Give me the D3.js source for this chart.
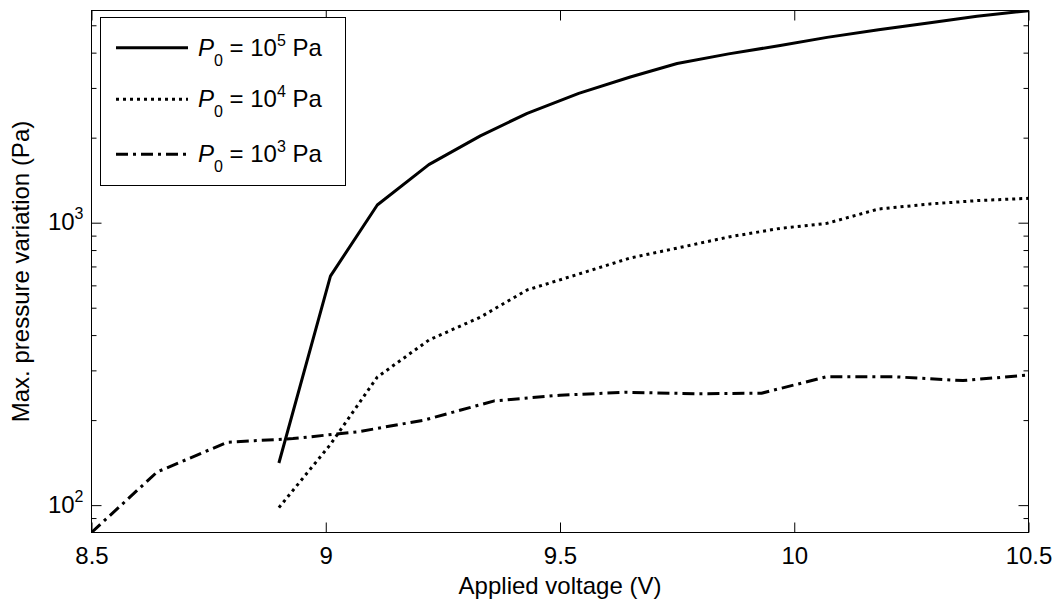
<!DOCTYPE html>
<html>
<head>
<meta charset="utf-8">
<script src="https://cdn.jsdelivr.net/npm/d3@7"></script>
<style>
  body { margin: 0; background: #fff; }
  svg text { font-family: "Liberation Sans", Arial, sans-serif; fill: #000; }
</style>
</head>
<body>
<div id="chart"></div>
<script>
// Voltages (V) for the P0 = 1e5 and 1e4 Pa runs
const voltageHigh = [8.90, 9.01, 9.11, 9.22, 9.33, 9.43, 9.54, 9.65, 9.75, 9.86, 9.97, 10.07, 10.18, 10.29, 10.39, 10.50];
// Voltages (V) for the P0 = 1e3 Pa run
const voltageLow = [8.50, 8.64, 8.79, 8.93, 9.07, 9.21, 9.36, 9.50, 9.64, 9.79, 9.93, 10.07, 10.21, 10.36, 10.50];

// Max. pressure variation (Pa)
const pressure5 = [141, 647, 1155, 1605, 2030, 2440, 2870, 3280, 3660, 3960, 4240, 4530, 4820, 5100, 5380, 5630];
const pressure4 = [98, 164, 284, 384, 463, 578, 658, 750, 813, 890, 955, 995, 1118, 1165, 1197, 1220];
const pressure3 = [80, 131, 167, 172, 182, 200, 234, 245, 251, 248, 249, 285, 285, 276, 289];

const xTicks = [8.5, 9, 9.5, 10, 10.5];
const yMajorTicks = [100, 1000];
const yMinorTicks = [90, 200, 300, 400, 500, 600, 700, 800, 900, 2000, 3000, 4000, 5000];

const seriesNames = ['5', '4', '3'];

class LineChart {

  constructor(_config) {
    this.config = {
      parentElement: _config.parentElement,
      containerWidth: 1057,
      containerHeight: 601,
      margin: { top: 10.5, right: 28.5, bottom: 68.5, left: 91.5 },
      fontSize: 24,
      smallFontSize: 16
    };
    this.initVis();
  }

  initVis() {
    let vis = this;

    vis.width = vis.config.containerWidth - vis.config.margin.left - vis.config.margin.right;
    vis.height = vis.config.containerHeight - vis.config.margin.top - vis.config.margin.bottom;

    vis.xScale = d3.scaleLinear()
      .domain([8.5, 10.5])
      .range([0, vis.width]);

    vis.yScale = d3.scaleLog()
      .domain([80, 5640])
      .range([vis.height, 0]);

    vis.svg = d3.select(vis.config.parentElement).append('svg')
      .attr('width', vis.config.containerWidth)
      .attr('height', vis.config.containerHeight);

    vis.chartArea = vis.svg.append('g')
      .attr('transform', `translate(${vis.config.margin.left},${vis.config.margin.top})`);

    vis.chartArea.append('clipPath')
      .attr('id', 'plot-clip')
      .append('rect')
      .attr('width', vis.width)
      .attr('height', vis.height);

    vis.renderAxes();
    vis.renderLines();
    vis.renderLegend();
  }

  renderAxes() {
    let vis = this;
    const noLabel = () => '';

    // bottom + top ticks, pointing inward
    const xAxis = d3.axisBottom(vis.xScale)
      .tickValues(xTicks)
      .tickSize(-10)
      .tickSizeOuter(0)
      .tickPadding(14)
      .tickFormat(d3.format('~g'));
    vis.chartArea.append('g')
      .attr('transform', `translate(0,${vis.height})`)
      .call(xAxis);
    vis.chartArea.append('g')
      .call(d3.axisTop(vis.xScale).tickValues(xTicks).tickSize(-10).tickSizeOuter(0).tickFormat(noLabel));

    // left axis, labels as 10^n
    const yAxis = d3.axisLeft(vis.yScale)
      .tickValues(yMajorTicks)
      .tickSize(-10)
      .tickSizeOuter(0)
      .tickPadding(8)
      .tickFormat(noLabel);
    const yAxisG = vis.chartArea.append('g').call(yAxis);
    yAxisG.selectAll('.tick text')
      .attr('dy', '0.3em')
      .each(function (d) {
        const t = d3.select(this);
        t.append('tspan').text('10');
        t.append('tspan')
          .attr('dy', -11)
          .attr('font-size', vis.config.smallFontSize)
          .text(Math.round(Math.log10(d)));
      });
    vis.chartArea.append('g')
      .call(d3.axisLeft(vis.yScale).tickValues(yMinorTicks).tickSize(-5).tickSizeOuter(0).tickFormat(noLabel));

    // right mirror ticks
    vis.chartArea.append('g')
      .attr('transform', `translate(${vis.width},0)`)
      .call(d3.axisRight(vis.yScale).tickValues(yMajorTicks).tickSize(-10).tickSizeOuter(0).tickFormat(noLabel));
    vis.chartArea.append('g')
      .attr('transform', `translate(${vis.width},0)`)
      .call(d3.axisRight(vis.yScale).tickValues(yMinorTicks).tickSize(-5).tickSizeOuter(0).tickFormat(noLabel));

    vis.chartArea.selectAll('.domain').remove();
    vis.chartArea.selectAll('.tick line').attr('stroke', '#000');
    vis.chartArea.selectAll('.tick text')
      .attr('font-size', vis.config.fontSize)
      .attr('font-family', '"Liberation Sans", Arial, sans-serif')
      .attr('fill', '#000');

    // axes box
    vis.chartArea.append('rect')
      .attr('width', vis.width)
      .attr('height', vis.height)
      .attr('fill', 'none')
      .attr('stroke', '#000')
      .attr('stroke-width', 1);

    // axis titles
    vis.svg.append('text')
      .attr('x', vis.config.margin.left + vis.width / 2)
      .attr('y', 594)
      .attr('text-anchor', 'middle')
      .attr('font-size', vis.config.fontSize)
      .text('Applied voltage (V)');

    vis.svg.append('text')
      .attr('transform', `translate(29,${vis.config.margin.top + vis.height / 2}) rotate(-90)`)
      .attr('text-anchor', 'middle')
      .attr('font-size', vis.config.fontSize)
      .text('Max. pressure variation (Pa)');
  }

  renderLines() {
    let vis = this;

    vis.styles = {
      '5': { dash: null },
      '4': { dash: '3,4' },
      '3': { dash: '12,5,3,5' }
    };

    const series = [
      { key: '5', x: voltageHigh, y: pressure5 },
      { key: '4', x: voltageHigh, y: pressure4 },
      { key: '3', x: voltageLow, y: pressure3 }
    ];

    const line = d3.line()
      .x(d => vis.xScale(d[0]))
      .y(d => vis.yScale(d[1]));

    vis.chartArea.append('g')
      .attr('clip-path', 'url(#plot-clip)')
      .selectAll('.series')
      .data(series)
      .join('path')
      .attr('class', 'series')
      .attr('fill', 'none')
      .attr('stroke', '#000')
      .attr('stroke-width', 3)
      .attr('stroke-linejoin', 'round')
      .attr('stroke-dasharray', d => vis.styles[d.key].dash)
      .attr('d', d => line(d.x.map((v, i) => [v, d.y[i]])));
  }

  renderLegend() {
    let vis = this;

    const legend = vis.svg.append('g');
    legend.append('rect')
      .attr('x', 100.5)
      .attr('y', 17.5)
      .attr('width', 245)
      .attr('height', 168)
      .attr('fill', '#fff')
      .attr('stroke', '#000');

    const rowY = [47.7, 99.3, 154.3];

    const rows = legend.selectAll('.legend-row')
      .data(seriesNames)
      .join('g')
      .attr('class', 'legend-row')
      .attr('transform', (d, i) => `translate(0,${rowY[i]})`);

    rows.append('line')
      .attr('x1', 116)
      .attr('x2', 188)
      .attr('stroke', '#000')
      .attr('stroke-width', 3)
      .attr('stroke-dasharray', d => vis.styles[d].dash);

    const label = rows.append('text')
      .attr('x', 198)
      .attr('y', 8)
      .attr('font-size', vis.config.fontSize);
    label.append('tspan').attr('font-style', 'italic').text('P');
    label.append('tspan').attr('font-size', vis.config.smallFontSize).attr('dy', 10).text('0');
    label.append('tspan').attr('dy', -10).text(' = 10');
    label.append('tspan').attr('font-size', vis.config.smallFontSize).attr('dy', -10).text(d => d);
    label.append('tspan').attr('dy', 10).text(' Pa');
  }
}

new LineChart({ parentElement: '#chart' });
</script>
</body>
</html>
